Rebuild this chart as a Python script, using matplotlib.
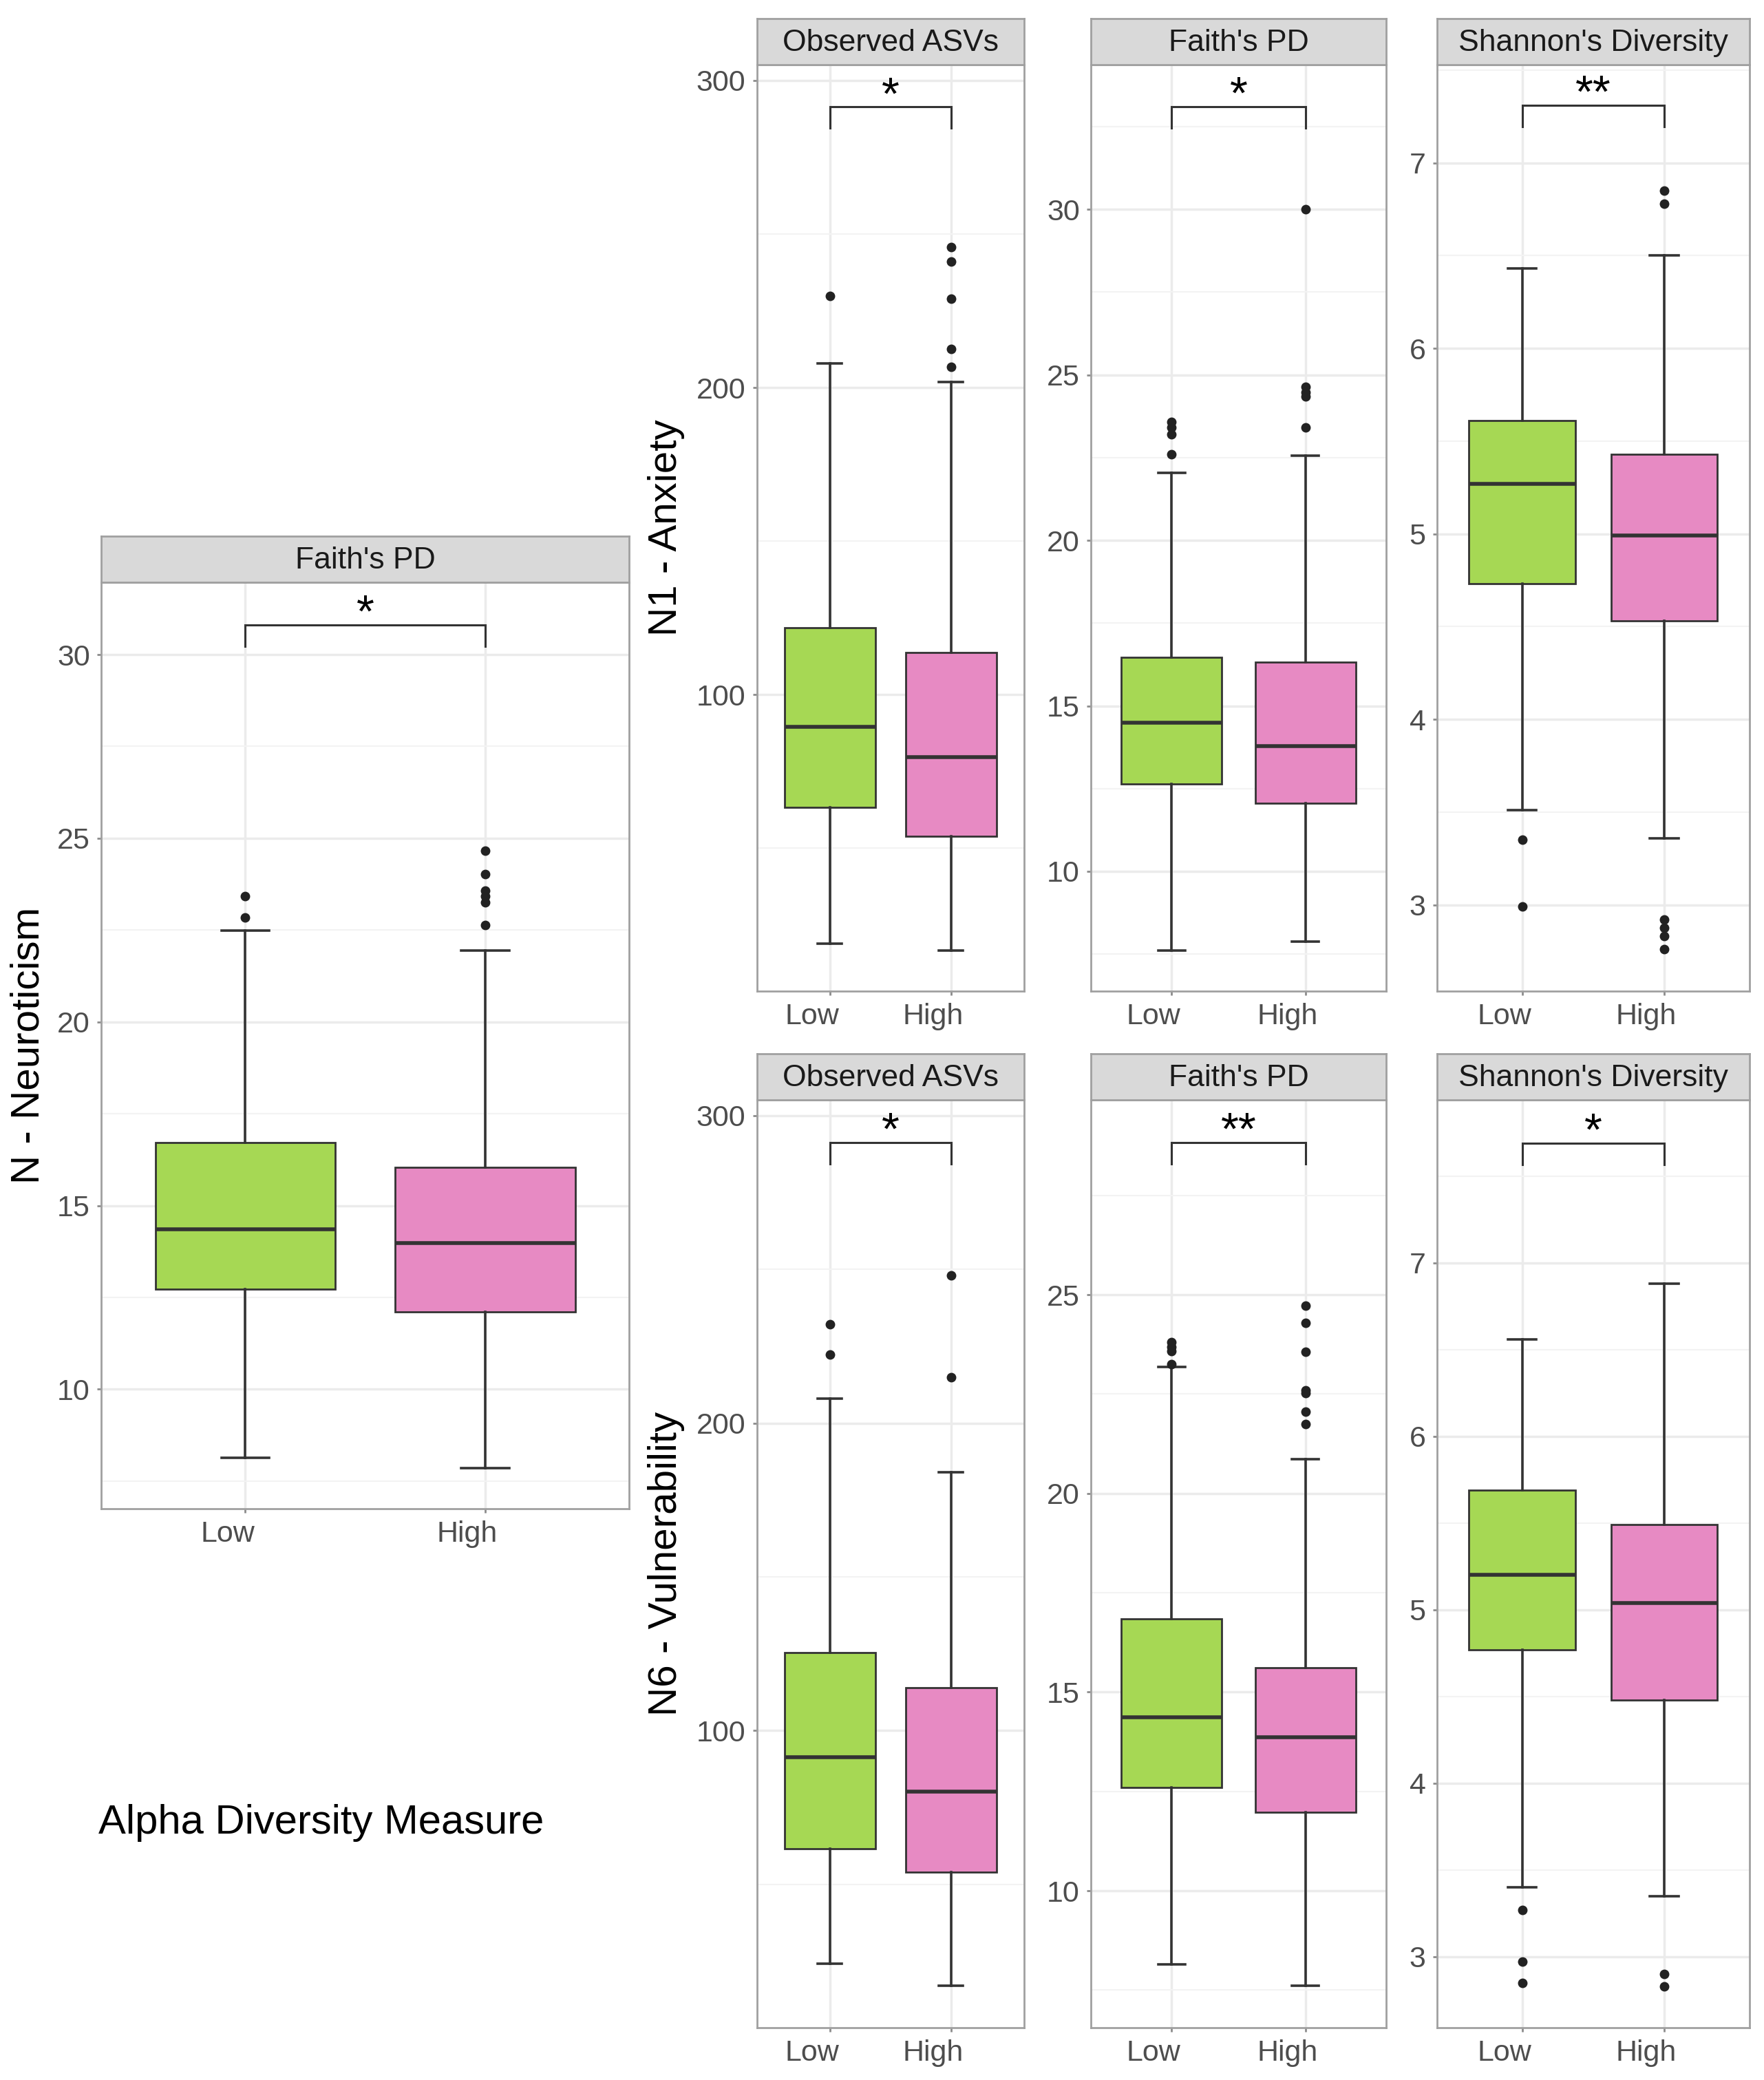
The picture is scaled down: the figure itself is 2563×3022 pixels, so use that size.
import matplotlib.pyplot as plt
import matplotlib.transforms as mtransforms
import numpy as np

plt.rcParams['font.family'] = ['Liberation Sans', 'DejaVu Sans']

groups = ["Low", "High"]
box_colors = ["#A6D854", "#E78AC3"]

# whisker low, q1, median, q3, whisker high  -> [Low, High]
n_faith = [[8.13, 12.72, 14.35, 16.72, 22.49], [7.86, 12.10, 13.99, 16.04, 21.94]]
n_faith_out = [[23.43, 22.85], [24.66, 24.03, 23.58, 23.43, 23.25, 22.64]]

n1_obs = [[19.0, 63.3, 89.5, 121.9, 207.9], [16.8, 53.9, 79.8, 113.7, 201.9]]
n1_obs_out = [[229.8], [245.7, 241.0, 229.0, 212.6, 206.8]]
n1_faith = [[7.61, 12.65, 14.50, 16.47, 22.03], [7.87, 12.06, 13.79, 16.33, 22.57]]
n1_faith_out = [[23.58, 23.42, 23.2, 22.6], [30.0, 24.64, 24.48, 24.34, 23.41]]
n1_shannon = [[3.51, 4.73, 5.27, 5.61, 6.43], [3.36, 4.53, 4.99, 5.43, 6.50]]
n1_shannon_out = [[3.35, 2.99], [6.85, 6.78, 2.92, 2.875, 2.83, 2.76]]

n6_obs = [[24.1, 61.5, 91.3, 125.4, 208.0], [17.0, 53.9, 80.2, 113.9, 184.1]]
n6_obs_out = [[232.2, 222.2], [248.0, 215.0]]
n6_faith = [[8.15, 12.60, 14.36, 16.85, 23.18], [7.61, 11.98, 13.86, 15.62, 20.87]]
n6_faith_out = [[23.8, 23.68, 23.58, 23.26], [24.73, 24.29, 23.57, 22.6, 22.52, 22.05, 21.75]]
n6_shannon = [[3.40, 4.77, 5.20, 5.69, 6.56], [3.35, 4.48, 5.04, 5.49, 6.88]]
n6_shannon_out = [[3.27, 2.97, 2.85], [2.90, 2.83]]

# significance bracket height and label per panel
sig_y = {"n": 30.81, "n1_obs": 291.4, "n1_faith": 33.1, "n1_shannon": 7.31,
         "n6_obs": 291.3, "n6_faith": 28.83, "n6_shannon": 7.69}
sig_lab = {"n": "*", "n1_obs": "*", "n1_faith": "*", "n1_shannon": "**",
           "n6_obs": "*", "n6_faith": "**", "n6_shannon": "*"}

fig = plt.figure(figsize=(25.63, 30.22), dpi=100)

STRIP_H = 0.0222
# x tick labels sit a little left of their ticks in the original
label_shift = mtransforms.ScaledTranslation(-0.26, -12 / 72, fig.dpi_scale_trans)


def panel(rect, title, stats, outl, key, ylim, ticks):
    ax = fig.add_axes(rect)
    bstats = []
    for i in range(2):
        lo, q1, md, q3, hi = stats[i]
        bstats.append(dict(whislo=lo, q1=q1, med=md, q3=q3, whishi=hi,
                           fliers=outl[i], label=groups[i]))
    bp = ax.bxp(bstats, positions=[1, 2], widths=0.75, patch_artist=True,
                capwidths=0.2, manage_ticks=False,
                boxprops=dict(edgecolor="#333333", linewidth=2.0),
                whiskerprops=dict(color="#333333", linewidth=2.6),
                capprops=dict(color="#333333", linewidth=2.6),
                medianprops=dict(color="#333333", linewidth=4.0),
                flierprops=dict(marker="o", markersize=9, markerfacecolor="#222222",
                                markeredgecolor="#222222"))
    for patch, c in zip(bp["boxes"], box_colors):
        patch.set_facecolor(c)
    for a in bp["boxes"] + bp["whiskers"] + bp["caps"] + bp["medians"] + bp["fliers"]:
        a.set_zorder(3)

    ax.set_xlim(0.4, 2.6)
    ax.set_ylim(*ylim)
    ax.set_xticks([1, 2])
    ax.set_xticklabels([])
    for i, g in enumerate(groups):
        ax.text(i + 1, 0, g, transform=ax.get_xaxis_transform() + label_shift,
                ha="center", va="top", fontsize=31, color="#4D4D4D")
    ax.set_yticks(ticks)
    step = ticks[1] - ticks[0]
    minor = np.arange(ticks[0] - step / 2, ylim[1], step)
    ax.set_yticks([m for m in minor if ylim[0] < m < ylim[1]], minor=True)
    ax.grid(True, which="major", color="#EBEBEB", linewidth=2.5, zorder=0)
    ax.grid(True, which="minor", axis="y", color="#F3F3F3", linewidth=1.5, zorder=0)
    ax.set_axisbelow(True)
    ax.tick_params(axis="both", which="major", labelsize=31, labelcolor="#4D4D4D",
                   color="#8C8C8C", length=4, width=2, pad=8)
    ax.tick_params(axis="y", which="minor", length=0)
    for s in ax.spines.values():
        s.set_color("#A0A0A0")
        s.set_linewidth(2.0)

    # significance bracket
    yb = sig_y[key]
    tip = 0.023 * (ylim[1] - ylim[0])
    ax.plot([1, 1, 2, 2], [yb - tip, yb, yb, yb - tip], color="#333333",
            linewidth=2.2, zorder=4, solid_joinstyle="miter")
    ax.annotate(sig_lab[key], xy=(1.5, yb), xytext=(0, -2), textcoords="offset points",
                ha="center", va="baseline", fontsize=48, color="black")

    # facet strip
    sx = fig.add_axes([rect[0], rect[1] + rect[3], rect[2], STRIP_H])
    sx.set_facecolor("#D9D9D9")
    sx.set_xticks([])
    sx.set_yticks([])
    for s in sx.spines.values():
        s.set_color("#A0A0A0")
        s.set_linewidth(2.0)
    sx.text(0.5, 0.47, title, ha="center", va="center", fontsize=32,
            color="#1A1A1A", transform=sx.transAxes)
    return ax


top_b, top_h = 0.5235, 0.4455
bot_b, bot_h = 0.0251, 0.4462

panel([0.0575, 0.2745, 0.2991, 0.4456], "Faith's PD", n_faith, n_faith_out, "n",
      (6.74, 31.97), [10, 15, 20, 25, 30])

panel([0.4292, top_b, 0.1512, top_h], "Observed ASVs", n1_obs, n1_obs_out, "n1_obs",
      (3.5, 305.2), [100, 200, 300])
panel([0.6186, top_b, 0.1671, top_h], "Faith's PD", n1_faith, n1_faith_out, "n1_faith",
      (6.38, 34.38), [10, 15, 20, 25, 30])
panel([0.8147, top_b, 0.1770, top_h], "Shannon's Diversity", n1_shannon, n1_shannon_out,
      "n1_shannon", (2.535, 7.53), [3, 4, 5, 6, 7])

panel([0.4292, bot_b, 0.1512, bot_h], "Observed ASVs", n6_obs, n6_obs_out, "n6_obs",
      (3.3, 305.2), [100, 200, 300])
panel([0.6186, bot_b, 0.1671, bot_h], "Faith's PD", n6_faith, n6_faith_out, "n6_faith",
      (6.55, 29.91), [10, 15, 20, 25])
panel([0.8147, bot_b, 0.1770, bot_h], "Shannon's Diversity", n6_shannon, n6_shannon_out,
      "n6_shannon", (2.59, 7.94), [3, 4, 5, 6, 7])

fig.text(0.016, 0.2745 + 0.4456 / 2, "N - Neuroticism", rotation=90, ha="center",
         va="center", fontsize=42)
fig.text(0.3775, top_b + top_h / 2, "N1 - Anxiety", rotation=90, ha="center",
         va="center", fontsize=42)
fig.text(0.3775, bot_b + bot_h / 2, "N6 - Vulnerability", rotation=90, ha="center",
         va="center", fontsize=42)
fig.text(0.0557, 0.1235, "Alpha Diversity Measure", ha="left", va="center", fontsize=43)

fig.savefig("out.png", dpi=100, facecolor="white")
